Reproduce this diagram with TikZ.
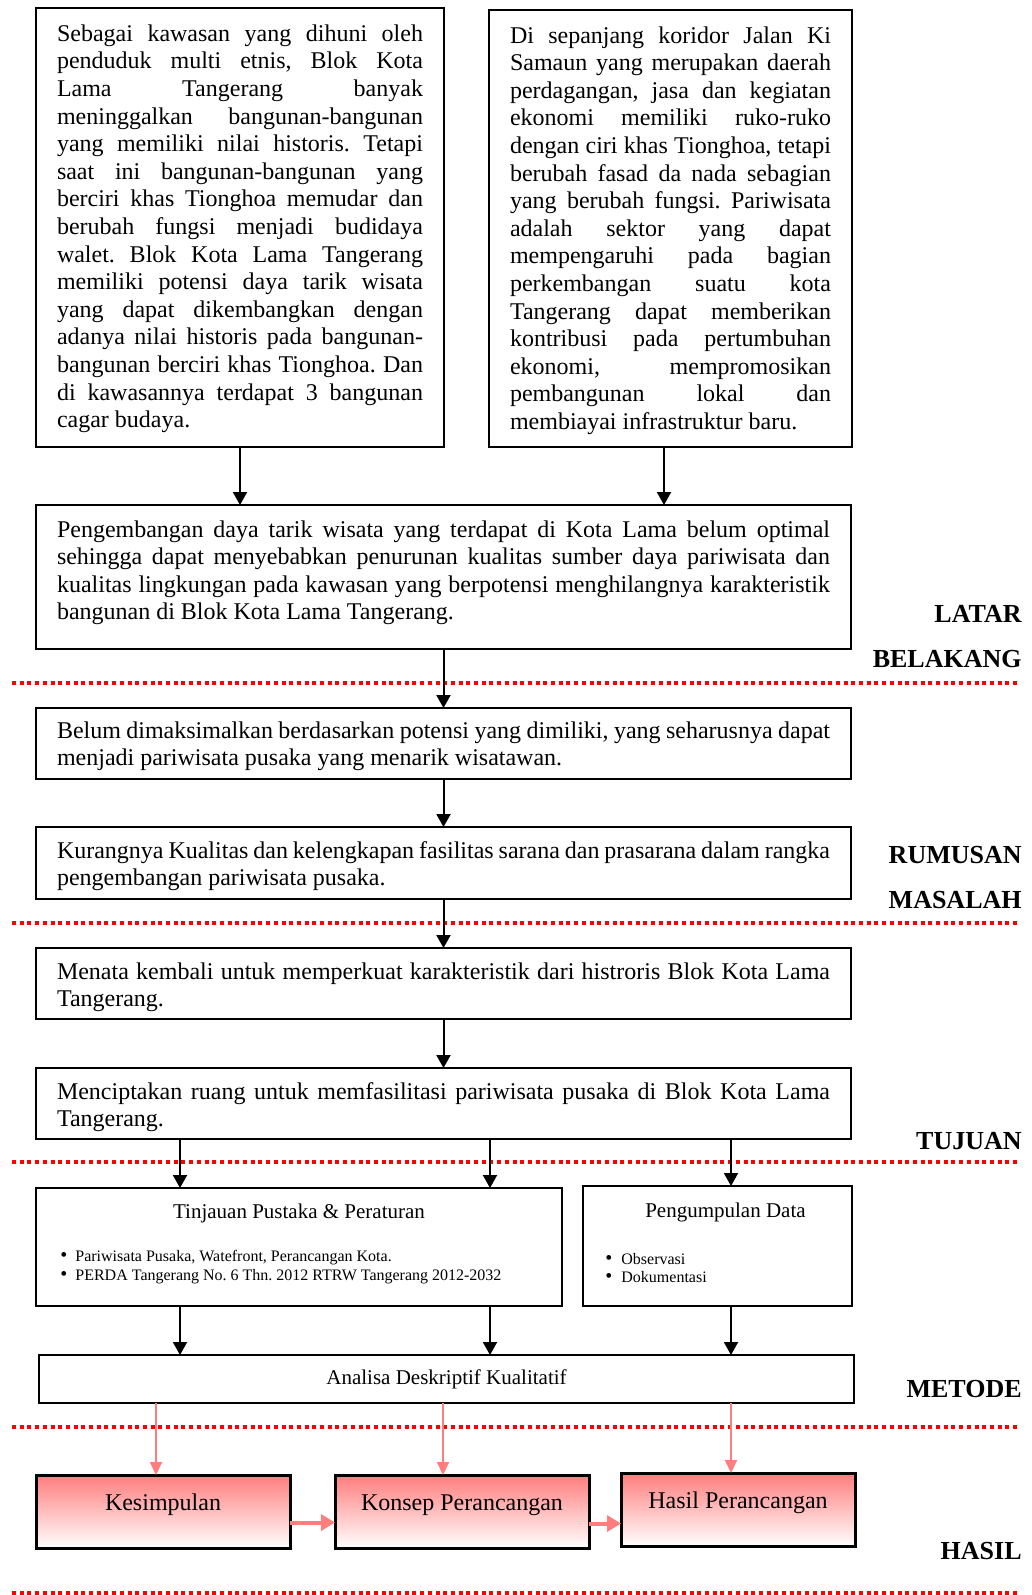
\documentclass[tikz,border=0pt]{standalone}
\usepackage{fontspec}
\setmainfont{Liberation Serif}
\usepackage{tikz}
\usetikzlibrary{arrows.meta, positioning, calc}

\definecolor{merahmuda}{RGB}{255,125,125}

\hyphenpenalty=10000
\exhyphenpenalty=10000
\tolerance=10000
\hbadness=10000
\vbadness=10000
\hfuzz=30pt
\vfuzz=30pt
\frenchspacing

\newcommand{\isi}[3]{\parbox[c][#2][t]{#1}{\strut#3}}
\newcommand{\titik}{\smash{\fontsize{10}{10}\selectfont\textbullet}}

\tikzset{
  kotak/.style={draw, line width=1.3pt, inner xsep=10.5pt, outer sep=0pt, anchor=north west, font=\fontsize{12}{13.8}\selectfont},
  hasilbox/.style={kotak, line width=1.5pt, top color=merahmuda, bottom color=white, minimum height=36.5pt, text height=9pt, text depth=10.5pt, inner sep=0pt},
  panah/.style={-{Triangle[length=6.5pt,width=7pt]}, line width=1pt},
  panahmerah/.style={-{Triangle[length=6.5pt,width=6pt]}, line width=1pt, merahmuda},
  panahtebal/.style={-{Triangle[length=7pt,width=8pt]}, line width=2pt, merahmuda},
  garis/.style={red, line width=2pt, dash pattern=on 2pt off 1.85pt},
  judul/.style={anchor=base east, inner sep=0pt, font=\bfseries\fontsize{13}{15}\selectfont},
  judulkecil/.style={anchor=base, inner sep=0pt, font=\fontsize{10.5}{12}\selectfont},
  butir/.style={anchor=base west, inner sep=0pt, font=\fontsize{8}{9.5}\selectfont}
}

\begin{document}
\begin{tikzpicture}[x=0.5pt, y=-0.5pt]
\useasboundingbox (0,0) rectangle (1032,1595);

%// red separators
\foreach \y in {683,923,1162,1427,1593}
\draw[garis] (12,\y) -- (1020,\y);

%// latar belakang
\node[kotak, inner ysep=7pt] (latar1) at (36,8) {\isi{183pt}{205.5pt}{Sebagai kawasan yang dihuni oleh\linebreak
penduduk multi etnis, Blok Kota\linebreak
Lama Tangerang banyak\linebreak
meninggalkan bangunan-bangunan\linebreak
yang memiliki nilai historis. Tetapi\linebreak
saat ini bangunan-bangunan yang\linebreak
berciri khas Tionghoa memudar dan\linebreak
berubah fungsi menjadi budidaya\linebreak
walet. Blok Kota Lama Tangerang\linebreak
memiliki potensi daya tarik wisata\linebreak
yang dapat dikembangkan dengan\linebreak
adanya nilai historis pada bangunan-\linebreak
bangunan berciri khas Tionghoa. Dan\linebreak
di kawasannya terdapat 3 bangunan\linebreak
cagar budaya.}};

\node[kotak, inner ysep=6.85pt] (latar2) at (489,10) {\isi{160.5pt}{204.8pt}{Di sepanjang koridor Jalan Ki\linebreak
Samaun yang merupakan daerah\linebreak
perdagangan, jasa dan kegiatan\linebreak
ekonomi memiliki ruko-ruko\linebreak
dengan ciri khas Tionghoa, tetapi\linebreak
berubah fasad da nada sebagian\linebreak
yang berubah fungsi. Pariwisata\linebreak
adalah sektor yang dapat\linebreak
mempengaruhi pada bagian\linebreak
perkembangan suatu kota\linebreak
Tangerang dapat memberikan\linebreak
kontribusi pada pertumbuhan\linebreak
ekonomi, mempromosikan\linebreak
pembangunan lokal dan\linebreak
membiayai infrastruktur baru.}};

\node[kotak, inner ysep=6.35pt] (latar3) at (36,505) {\isi{386.5pt}{59.3pt}{Pengembangan daya tarik wisata yang terdapat di Kota Lama belum optimal\linebreak
sehingga dapat menyebabkan penurunan kualitas sumber daya pariwisata dan\linebreak
kualitas lingkungan pada kawasan yang berpotensi menghilangnya karakteristik\linebreak
bangunan di Blok Kota Lama Tangerang.}};

%// rumusan masalah dan tujuan
\node[kotak, inner ysep=5.35pt] (rumusan1) at (36,708) {\isi{386.5pt}{24.8pt}{Belum dimaksimalkan berdasarkan potensi yang dimiliki, yang seharusnya dapat\linebreak
menjadi pariwisata pusaka yang menarik wisatawan.}};

\node[kotak, inner ysep=5.85pt] (rumusan2) at (36,827) {\isi{386.5pt}{24.3pt}{Kurangnya Kualitas dan kelengkapan fasilitas sarana dan prasarana dalam rangka\linebreak
pengembangan pariwisata pusaka.}};

\node[kotak, inner ysep=5.85pt] (tujuan1) at (36,948) {\isi{386.5pt}{23.8pt}{Menata kembali untuk memperkuat karakteristik dari histroris Blok Kota Lama\linebreak
Tangerang.}};

\node[kotak, inner ysep=5.85pt] (tujuan2) at (36,1068) {\isi{386.5pt}{23.8pt}{Menciptakan ruang untuk memfasilitasi pariwisata pusaka di Blok Kota Lama\linebreak
Tangerang.}};

%// metode
\node[kotak, minimum width=263pt, minimum height=59pt] (tinjauan) at (36,1188) {};
\node[judulkecil] (jTinjauan) at ([yshift=-15pt]tinjauan.north) {Tinjauan Pustaka \& Peraturan};
\foreach \teks/\dy [count=\i] in {{Pariwisata Pusaka, Watefront, Perancangan Kota.}/36.5, {PERDA Tangerang No. 6 Thn. 2012 RTRW Tangerang 2012-2032}/46}
\node[butir] (bTinjauan\i) at ([xshift=12pt, yshift=-\dy pt]tinjauan.north west) {\makebox[7.5pt][l]{\titik}\teks};

\node[kotak, minimum width=134.5pt, minimum height=60pt] (kumpul) at (583,1186) {};
\node[judulkecil] (jKumpul) at ([xshift=4pt, yshift=-15.5pt]kumpul.north) {Pengumpulan Data};
\foreach \teks/\dy [count=\i] in {Observasi/39, Dokumentasi/48.2}
\node[butir] (bKumpul\i) at ([xshift=11pt, yshift=-\dy pt]kumpul.north west) {\makebox[8pt][l]{\titik}\teks};

\node[kotak, minimum width=407.5pt, minimum height=24pt, font=\fontsize{10.5}{12}\selectfont] (analisa) at (39,1355) {Analisa Deskriptif Kualitatif};

%// hasil
\node[hasilbox, minimum width=127pt] (kesimpulan) at (36,1475) {Kesimpulan};
\node[hasilbox, minimum width=127pt] (konsep) at (335,1475) {Konsep Perancangan};
\node[hasilbox, minimum width=117pt] (hasil) at (621,1473) {Hasil Perancangan};

%// section titles
\foreach \nama/\teks/\y in {tLatar/LATAR/622, tBelakang/BELAKANG/667, tRumusan/RUMUSAN/863, tMasalah/MASALAH/908, tTujuan/TUJUAN/1149, tMetode/METODE/1397, tHasil/HASIL/1559}
\node[judul] (\nama) at (1022,\y) {\teks};

%// arrows
\draw[panah] (latar1.south) -- (latar1.south |- latar3.north);
\draw[panah] (latar2.south -| 664,0) -- (latar3.north -| 664,0);
\foreach \a/\b in {latar3/rumusan1, rumusan1/rumusan2, rumusan2/tujuan1, tujuan1/tujuan2}
\draw[panah] (\a.south) -- (\b.north);

\foreach \x in {180,490}
{
\draw[panah] (tujuan2.south -| \x,0) -- (tinjauan.north -| \x,0);
\draw[panah] (tinjauan.south -| \x,0) -- (analisa.north -| \x,0);
}
\draw[panah] (tujuan2.south -| 731,0) -- (kumpul.north -| 731,0);
\draw[panah] (kumpul.south -| 731,0) -- (analisa.north -| 731,0);

\foreach \x/\b in {156/kesimpulan, 443/konsep, 731/hasil}
\draw[panahmerah] (analisa.south -| \x,0) -- (\b.north -| \x,0);

\draw[panahtebal] ([yshift=-5.5pt]kesimpulan.east) -- ([yshift=-5.5pt]kesimpulan.east -| konsep.west);
\draw[panahtebal] ([yshift=-6pt]konsep.east) -- ([yshift=-6pt]konsep.east -| hasil.west);

\end{tikzpicture}
\end{document}
